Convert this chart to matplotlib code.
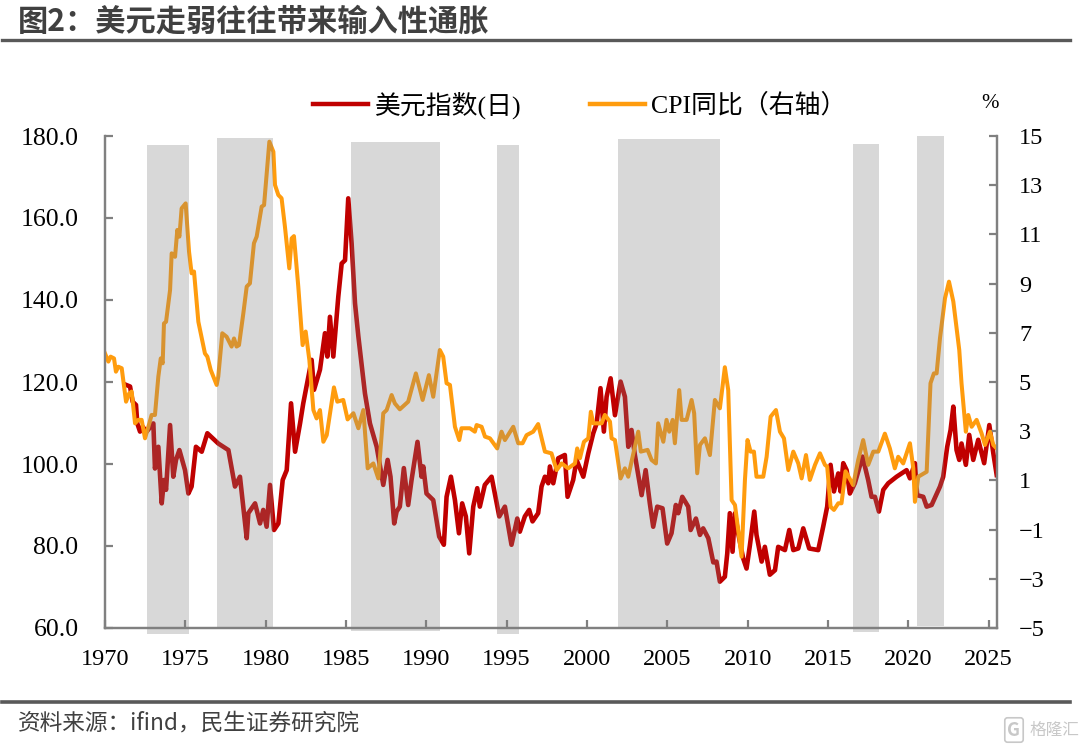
import matplotlib
matplotlib.use('Agg')
import matplotlib.pyplot as plt
from matplotlib.lines import Line2D

# 美元指数
dxy_year = [1971.31, 1971.56, 1971.72, 1971.93, 1972.01, 1972.18, 1972.34, 1972.59, 1973.01, 1973.11, 1973.32, 1973.53, 1973.67, 1973.80, 1974.05, 1974.25, 1974.42, 1974.63, 1974.98, 1975.19, 1975.39, 1975.66, 1976.02, 1976.37, 1977.05, 1977.68, 1978.09, 1978.40, 1978.82, 1978.92, 1979.34, 1979.65, 1979.85, 1980.06, 1980.27, 1980.52, 1980.79, 1981.06, 1981.31, 1981.58, 1981.83, 1982.14, 1982.34, 1982.66, 1982.86, 1983.01, 1983.38, 1983.69, 1983.84, 1984.00, 1984.21, 1984.52, 1984.73, 1984.94, 1985.14, 1985.35, 1985.56, 1985.77, 1986.18, 1986.49, 1986.91, 1987.32, 1987.59, 1987.77, 1988.00, 1988.15, 1988.35, 1988.60, 1988.87, 1989.08, 1989.45, 1989.70, 1989.81, 1990.01, 1990.43, 1990.80, 1991.09, 1991.26, 1991.53, 1991.78, 1992.03, 1992.23, 1992.46, 1992.67, 1992.92, 1993.17, 1993.33, 1993.64, 1994.06, 1994.54, 1994.89, 1995.30, 1995.66, 1995.82, 1996.13, 1996.40, 1996.61, 1996.96, 1997.17, 1997.38, 1997.59, 1997.69, 1997.90, 1998.21, 1998.62, 1998.79, 1999.14, 1999.35, 1999.77, 2000.08, 2000.39, 2000.60, 2000.84, 2001.05, 2001.22, 2001.47, 2001.74, 2002.09, 2002.36, 2002.57, 2002.77, 2002.98, 2003.40, 2003.65, 2003.91, 2004.12, 2004.37, 2004.70, 2004.99, 2005.26, 2005.53, 2005.68, 2005.93, 2006.30, 2006.45, 2006.78, 2007.03, 2007.23, 2007.55, 2007.86, 2008.06, 2008.27, 2008.58, 2008.73, 2008.89, 2009.06, 2009.21, 2009.41, 2009.72, 2009.93, 2010.14, 2010.41, 2010.55, 2010.87, 2011.07, 2011.38, 2011.70, 2011.90, 2012.32, 2012.59, 2012.84, 2013.15, 2013.46, 2013.83, 2014.39, 2014.70, 2014.95, 2015.16, 2015.37, 2015.64, 2015.78, 2015.95, 2016.16, 2016.36, 2016.67, 2017.15, 2017.50, 2017.71, 2017.92, 2018.17, 2018.44, 2018.75, 2019.27, 2019.89, 2020.10, 2020.41, 2020.55, 2020.93, 2021.14, 2021.45, 2021.97, 2022.17, 2022.42, 2022.63, 2022.80, 2023.00, 2023.17, 2023.31, 2023.58, 2023.79, 2024.04, 2024.35, 2024.72, 2025.04, 2025.29, 2025.50]
dxy_value = [119.3, 118.9, 115.2, 114.4, 109.9, 107.9, 109.1, 107.9, 109.9, 98.9, 104.2, 90.4, 96.1, 93.7, 109.5, 96.9, 101.0, 103.4, 98.5, 92.8, 94.5, 104.2, 103.0, 107.5, 105.0, 103.4, 94.5, 96.9, 81.9, 88.0, 90.4, 85.5, 88.8, 84.7, 94.9, 83.9, 85.5, 96.1, 98.5, 114.8, 103.0, 109.9, 114.8, 121.3, 125.4, 118.1, 123.0, 131.9, 126.2, 135.9, 126.2, 140.8, 148.9, 149.7, 164.8, 153.8, 139.2, 131.1, 117.2, 109.9, 104.2, 94.9, 101.0, 96.9, 85.5, 88.4, 89.6, 99.0, 90.0, 96.1, 105.4, 96.9, 99.4, 92.8, 91.2, 82.3, 80.3, 92.0, 96.9, 91.2, 83.1, 90.4, 87.2, 78.2, 89.6, 94.1, 89.6, 94.9, 96.9, 87.2, 89.6, 80.3, 86.7, 83.5, 87.2, 88.8, 86.0, 88.0, 94.5, 96.9, 95.3, 99.4, 95.3, 101.4, 102.2, 92.0, 96.1, 101.0, 96.9, 102.6, 107.5, 109.9, 118.5, 107.9, 116.4, 120.9, 111.9, 120.1, 116.4, 104.2, 108.3, 102.2, 92.4, 98.5, 90.4, 84.7, 89.6, 89.2, 80.6, 83.1, 90.0, 88.0, 92.0, 89.6, 83.9, 86.7, 82.7, 84.3, 81.9, 76.0, 76.2, 71.3, 72.5, 78.2, 88.0, 78.6, 88.0, 83.1, 77.0, 74.5, 80.2, 88.4, 82.7, 76.2, 79.8, 73.0, 74.1, 79.8, 79.0, 83.9, 79.0, 79.4, 84.3, 79.4, 79.0, 84.7, 89.6, 99.8, 93.3, 97.7, 93.3, 100.2, 98.5, 92.8, 95.3, 101.8, 96.1, 92.0, 92.0, 88.4, 93.7, 95.3, 96.9, 98.5, 96.5, 100.2, 92.4, 92.0, 89.6, 90.0, 94.5, 96.9, 104.2, 108.3, 114.0, 103.4, 101.0, 105.0, 99.8, 107.1, 101.0, 105.9, 100.2, 109.5, 102.6, 97.3]

# CPI同比
cpi_year = [1970.00, 1970.21, 1970.35, 1970.56, 1970.68, 1970.83, 1971.04, 1971.31, 1971.51, 1971.66, 1971.87, 1972.07, 1972.28, 1972.49, 1972.76, 1972.90, 1973.11, 1973.32, 1973.47, 1973.59, 1973.67, 1973.80, 1974.05, 1974.15, 1974.36, 1974.50, 1974.63, 1974.77, 1975.02, 1975.23, 1975.39, 1975.54, 1975.81, 1976.22, 1976.37, 1976.58, 1976.95, 1977.05, 1977.30, 1977.57, 1977.88, 1978.03, 1978.19, 1978.34, 1978.61, 1978.82, 1979.02, 1979.27, 1979.44, 1979.75, 1979.90, 1980.23, 1980.48, 1980.58, 1980.79, 1980.99, 1981.20, 1981.47, 1981.62, 1981.76, 1982.03, 1982.30, 1982.49, 1982.72, 1982.97, 1983.17, 1983.38, 1983.59, 1983.80, 1984.25, 1984.46, 1984.83, 1985.10, 1985.46, 1985.77, 1986.08, 1986.35, 1986.70, 1987.01, 1987.32, 1987.53, 1987.84, 1988.04, 1988.35, 1988.87, 1989.35, 1989.77, 1990.16, 1990.43, 1990.84, 1991.05, 1991.26, 1991.47, 1991.78, 1992.05, 1992.19, 1992.71, 1993.02, 1993.13, 1993.44, 1993.65, 1993.96, 1994.41, 1994.68, 1994.89, 1995.41, 1995.72, 1995.99, 1996.24, 1996.65, 1996.96, 1997.38, 1997.79, 1998.11, 1998.42, 1998.83, 1999.25, 1999.39, 1999.56, 1999.81, 2000.08, 2000.24, 2000.39, 2000.91, 2001.11, 2001.43, 2001.53, 2001.74, 2002.09, 2002.36, 2002.57, 2002.77, 2003.19, 2003.35, 2003.77, 2004.02, 2004.29, 2004.43, 2004.75, 2004.95, 2005.12, 2005.33, 2005.47, 2005.74, 2005.89, 2006.20, 2006.51, 2006.67, 2006.86, 2007.03, 2007.34, 2007.65, 2007.96, 2008.27, 2008.58, 2008.79, 2009.00, 2009.21, 2009.41, 2009.62, 2009.83, 2009.99, 2010.18, 2010.39, 2010.55, 2010.97, 2011.18, 2011.43, 2011.76, 2012.01, 2012.26, 2012.53, 2012.84, 2013.15, 2013.36, 2013.63, 2013.87, 2014.19, 2014.50, 2014.81, 2014.95, 2015.16, 2015.37, 2015.64, 2015.84, 2016.09, 2016.57, 2016.88, 2017.19, 2017.50, 2017.82, 2018.13, 2018.54, 2018.85, 2019.16, 2019.37, 2019.68, 2020.10, 2020.31, 2020.41, 2020.62, 2021.14, 2021.38, 2021.59, 2021.76, 2021.97, 2022.28, 2022.53, 2022.80, 2023.17, 2023.31, 2023.58, 2023.73, 2023.94, 2024.25, 2024.56, 2024.77, 2025.08, 2025.29, 2025.50]
cpi_value = [6.16, 5.83, 6.03, 5.96, 5.42, 5.62, 5.56, 4.20, 4.54, 4.61, 3.32, 3.46, 3.46, 2.71, 3.32, 3.66, 3.66, 5.22, 5.96, 5.76, 7.38, 7.45, 8.74, 10.23, 10.09, 11.18, 10.91, 12.06, 12.26, 10.30, 9.42, 9.49, 7.45, 6.16, 6.03, 5.49, 4.88, 5.22, 6.98, 6.84, 6.44, 6.77, 6.44, 6.50, 7.79, 8.88, 9.01, 10.64, 10.91, 12.13, 12.19, 14.77, 14.36, 13.01, 12.60, 12.47, 11.31, 9.62, 10.84, 10.93, 8.88, 6.50, 7.05, 5.89, 3.86, 3.52, 3.86, 2.57, 2.84, 4.78, 4.20, 4.27, 3.48, 3.73, 3.12, 3.86, 1.49, 1.69, 1.08, 3.73, 3.86, 4.47, 4.13, 3.89, 4.20, 5.35, 4.27, 5.28, 4.40, 6.30, 6.03, 4.95, 4.88, 3.18, 2.64, 3.12, 3.12, 2.98, 3.25, 3.18, 2.78, 2.71, 2.30, 2.98, 2.64, 3.18, 2.51, 2.51, 2.84, 2.98, 3.29, 2.17, 2.10, 1.42, 1.69, 1.49, 1.69, 2.30, 1.90, 2.57, 2.71, 3.79, 3.32, 3.32, 3.66, 3.39, 2.71, 2.64, 1.08, 1.49, 1.15, 1.76, 2.98, 2.17, 2.24, 1.83, 1.69, 3.32, 2.57, 3.46, 2.98, 3.46, 2.51, 4.67, 3.46, 3.46, 4.27, 3.73, 1.29, 2.44, 2.71, 2.03, 4.27, 3.93, 5.60, 4.67, 0.20, 0.00, -1.02, -2.10, 1.02, 2.64, 2.17, 2.17, 1.15, 1.15, 1.96, 3.59, 3.86, 2.98, 2.71, 1.42, 2.17, 1.69, 1.08, 2.03, 1.02, 1.63, 2.10, 1.63, 1.56, -0.07, -0.20, 0.07, 0.07, 1.37, 0.81, 1.83, 2.64, 1.63, 2.17, 2.17, 2.90, 2.30, 1.49, 1.96, 1.69, 2.51, 1.49, 0.13, 1.15, 1.35, 4.95, 5.35, 5.35, 6.78, 8.40, 9.08, 8.27, 6.30, 4.95, 2.98, 3.66, 3.18, 3.46, 2.91, 2.44, 2.98, 2.44, 2.30]

# 阴影区间(右轴单位)
band_start = [1972.63, 1976.95, 1985.31, 1994.37, 2001.92, 2016.56, 2020.57]
band_end = [1975.21, 1980.44, 1990.85, 1995.74, 2008.27, 2018.18, 2022.23]
band_top = [14.65, 14.92, 14.74, 14.65, 14.88, 14.67, 15.0]
band_bottom = [-5.24, -5.0, -5.11, -5.24, -5.0, -5.16, -4.91]

x_ticks = [1970, 1975, 1980, 1985, 1990, 1995, 2000, 2005, 2010, 2015, 2020, 2025]
left_ticks = [60, 80, 100, 120, 140, 160, 180]
right_ticks = [-5, -3, -1, 1, 3, 5, 7, 9, 11, 13, 15]

SERIF = ['Liberation Serif', 'Noto Sans CJK SC']
SANS = ['Noto Sans CJK SC', 'DejaVu Sans']
RED = '#c00000'
ORANGE = '#ff9c0e'
AXIS = '#808080'
W, H = 1080, 747

plt.rcParams['font.family'] = SERIF
fig = plt.figure(figsize=(W / 100, H / 100), dpi=100)
ax = fig.add_axes([105 / W, 1 - 628 / H, (996.7 - 105) / W, (628 - 136) / H])
ax2 = ax.twinx()

ax.plot(dxy_year, dxy_value, color=RED, lw=3.3, solid_joinstyle='round')
ax2.plot(cpi_year, cpi_value, color=ORANGE, lw=2.9, solid_joinstyle='round')

# 阴影盖在折线上面,半透明
heights = [t - b for t, b in zip(band_top, band_bottom)]
widths = [e - s for s, e in zip(band_start, band_end)]
ax2.bar(band_start, heights, width=widths, bottom=band_bottom, align='edge',
        color='#808080', alpha=0.3, lw=0, clip_on=False, zorder=5)

ax.set_xlim(1970, 2025.5)
ax.set_ylim(60, 180)
ax2.set_ylim(-5, 15)
ax.set_xticks(x_ticks)
ax.set_yticks(left_ticks)
ax.set_yticklabels([f'{v:.1f}' for v in left_ticks])
ax2.set_yticks(right_ticks)

for a in (ax, ax2):
    a.spines['top'].set_visible(False)
    for s in a.spines.values():
        s.set_color(AXIS)
        s.set_linewidth(1.6)
    a.tick_params(direction='in', length=6, width=1.6, color=AXIS,
                  labelsize=17.5, labelcolor='black')
ax.tick_params(axis='x', pad=15)
ax.tick_params(axis='y', pad=19, labelsize=18.5)
ax2.tick_params(axis='y', pad=16)

# 图例手工摆放
fig.add_artist(Line2D([313 / W, 368 / W], [1 - 104 / H] * 2, color=RED, lw=3.2))
fig.add_artist(Line2D([590 / W, 645 / W], [1 - 104 / H] * 2, color=ORANGE, lw=3.2))
fig.text(375 / W, 1 - 105 / H, '美元指数(日)', fontsize=18.6, ha='left', va='center')
fig.text(651 / W, 1 - 105 / H, 'CPI同比（右轴）', fontsize=18.6, ha='left', va='center')
fig.text(990 / W, 1 - 104 / H, '%', fontsize=15, ha='center', va='center')

# 标题和来源
fig.text(18 / W, 1 - 22 / H, '图2：美元走弱往往带来输入性通胀', family=SANS, weight='bold',
         fontsize=21.8, color='#404040', ha='left', va='center')
fig.add_artist(Line2D([2 / W, 1070 / W], [1 - 40 / H] * 2, color='#595959', lw=2.4))
fig.add_artist(Line2D([2 / W, 1070 / W], [1 - 701.5 / H] * 2, color='#595959', lw=2.6))
fig.text(18 / W, 1 - 723 / H, '资料来源：ifind，民生证券研究院', family=SANS,
         fontsize=16.3, color='#404040', ha='left', va='center')
fig.text(1014 / W, 1 - 730 / H, 'G', family=SANS, fontsize=13, weight='bold', color='#c8c8c8',
         ha='center', va='center',
         bbox=dict(boxstyle='round,pad=0.15', fc='none', ec='#c8c8c8', lw=1.2))
fig.text(1054 / W, 1 - 730 / H, '格隆汇', family=SANS, fontsize=12, color='#c8c8c8',
         ha='center', va='center')

fig.savefig('out.png', dpi=100)
